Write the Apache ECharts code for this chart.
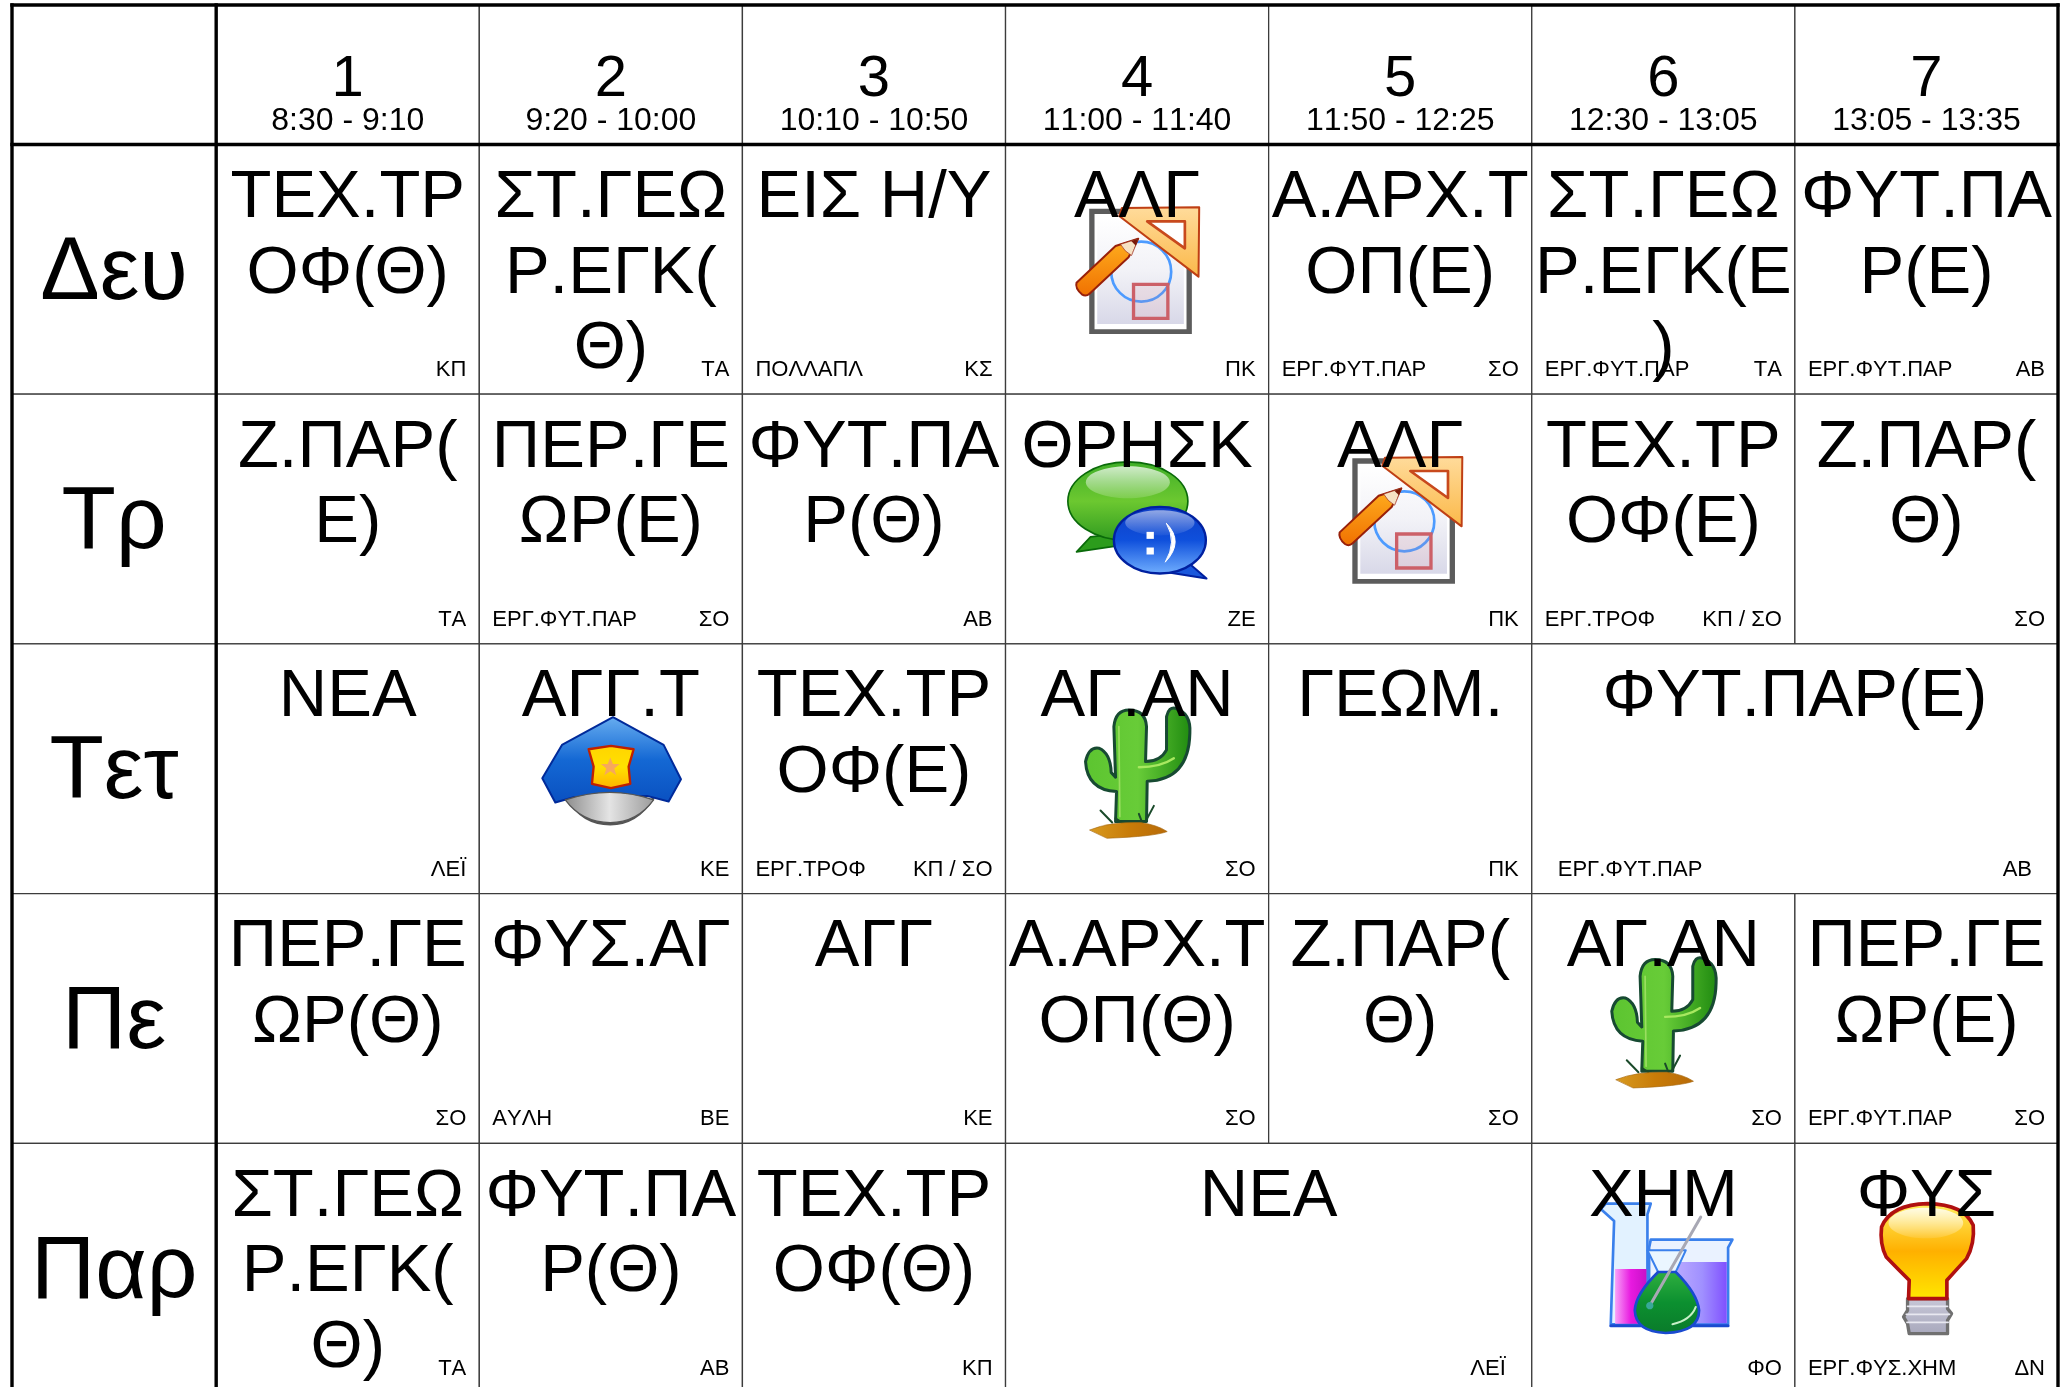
<!DOCTYPE html>
<html>
<head>
<meta charset="utf-8">
<title>Πρόγραμμα</title>
<style>
html, body { margin: 0; padding: 0; background: #fff; }
#main { width: 2061px; height: 1387px; }
</style>
<script src="https://cdn.jsdelivr.net/npm/echarts@6/dist/echarts.min.js"></script>
</head>
<body>
<div id="main"></div>
<script>
var days = ['Δευ', 'Τρ', 'Τετ', 'Πε', 'Παρ'];
var periods = ['1', '2', '3', '4', '5', '6', '7'];
var times = ['8:30 - 9:10', '9:20 - 10:00', '10:10 - 10:50', '11:00 - 11:40', '11:50 - 12:25', '12:30 - 13:05', '13:05 - 13:35'];

// null = covered by the merged cell on its left
var subjects = [];
subjects[0] = ['ΤΕΧ.ΤΡ\nΟΦ(Θ)', 'ΣΤ.ΓΕΩ\nΡ.ΕΓΚ(\nΘ)', 'ΕΙΣ Η/Υ', 'ΑΛΓ', 'Α.ΑΡΧ.Τ\nΟΠ(Ε)', 'ΣΤ.ΓΕΩ\nΡ.ΕΓΚ(Ε\n)', 'ΦΥΤ.ΠΑ\nΡ(Ε)'];
subjects[1] = ['Ζ.ΠΑΡ(\nΕ)', 'ΠΕΡ.ΓΕ\nΩΡ(Ε)', 'ΦΥΤ.ΠΑ\nΡ(Θ)', 'ΘΡΗΣΚ', 'ΑΛΓ', 'ΤΕΧ.ΤΡ\nΟΦ(Ε)', 'Ζ.ΠΑΡ(\nΘ)'];
subjects[2] = ['ΝΕΑ', 'ΑΓΓ.Τ', 'ΤΕΧ.ΤΡ\nΟΦ(Ε)', 'ΑΓ.ΑΝ', 'ΓΕΩΜ.', 'ΦΥΤ.ΠΑΡ(Ε)', null];
subjects[3] = ['ΠΕΡ.ΓΕ\nΩΡ(Θ)', 'ΦΥΣ.ΑΓ', 'ΑΓΓ', 'Α.ΑΡΧ.Τ\nΟΠ(Θ)', 'Ζ.ΠΑΡ(\nΘ)', 'ΑΓ.ΑΝ', 'ΠΕΡ.ΓΕ\nΩΡ(Ε)'];
subjects[4] = ['ΣΤ.ΓΕΩ\nΡ.ΕΓΚ(\nΘ)', 'ΦΥΤ.ΠΑ\nΡ(Θ)', 'ΤΕΧ.ΤΡ\nΟΦ(Θ)', 'ΝΕΑ', null, 'ΧΗΜ', 'ΦΥΣ'];

var rooms = [];
rooms[0] = ['', '', 'ΠΟΛΛΑΠΛ', '', 'ΕΡΓ.ΦΥΤ.ΠΑΡ', 'ΕΡΓ.ΦΥΤ.ΠΑΡ', 'ΕΡΓ.ΦΥΤ.ΠΑΡ'];
rooms[1] = ['', 'ΕΡΓ.ΦΥΤ.ΠΑΡ', '', '', '', 'ΕΡΓ.ΤΡΟΦ', ''];
rooms[2] = ['', '', 'ΕΡΓ.ΤΡΟΦ', '', '', 'ΕΡΓ.ΦΥΤ.ΠΑΡ', ''];
rooms[3] = ['', 'ΑΥΛΗ', '', '', '', '', 'ΕΡΓ.ΦΥΤ.ΠΑΡ'];
rooms[4] = ['', '', '', '', '', '', 'ΕΡΓ.ΦΥΣ.ΧΗΜ'];

var teachers = [];
teachers[0] = ['ΚΠ', 'ΤΑ', 'ΚΣ', 'ΠΚ', 'ΣΟ', 'ΤΑ', 'ΑΒ'];
teachers[1] = ['ΤΑ', 'ΣΟ', 'ΑΒ', 'ΖΕ', 'ΠΚ', 'ΚΠ / ΣΟ', 'ΣΟ'];
teachers[2] = ['ΛΕΪ', 'ΚΕ', 'ΚΠ / ΣΟ', 'ΣΟ', 'ΠΚ', 'ΑΒ', ''];
teachers[3] = ['ΣΟ', 'ΒΕ', 'ΚΕ', 'ΣΟ', 'ΣΟ', 'ΣΟ', 'ΣΟ'];
teachers[4] = ['ΤΑ', 'ΑΒ', 'ΚΠ', 'ΛΕΪ', '', 'ΦΟ', 'ΔΝ'];

var icons = [];
icons[0] = ['', '', '', 'geometry', '', '', ''];
icons[1] = ['', '', '', 'chat', 'geometry', '', ''];
icons[2] = ['', 'cap', '', 'cactus', '', '', ''];
icons[3] = ['', '', '', '', '', 'cactus', ''];
icons[4] = ['', '', '', '', '', 'chem', 'bulb'];

var fontName = '"Liberation Sans", Arial, sans-serif';
var headerLeft = -0.776;
var headerTop = -0.5586;

var cellData = [];
for (var r = 0; r < subjects.length; r++) {
    for (var c = 0; c < subjects[r].length; c++) {
        if (subjects[r][c] === null) continue;
        var span = 1;
        while (c + span < subjects[r].length && subjects[r][c + span] === null) span++;
        cellData.push([c, r, span]);
    }
}
var headData = [];
for (var i = 0; i < periods.length; i++) headData.push([i, headerTop, 1]);
var dayData = [];
for (var i = 0; i < days.length; i++) dayData.push([headerLeft, i, 1]);

// thick rules of the table: x1, y1, x2, y2
var ruleData = [
    [headerLeft, headerTop, 7, headerTop],
    [headerLeft, 0, 7, 0],
    [headerLeft, headerTop, headerLeft, 5],
    [0, headerTop, 0, 5],
    [7, headerTop, 7, 5]
];

function lin(c0, c1, c2) {
    var stops = [{ offset: 0, color: c0 }];
    if (c2) {
        stops.push({ offset: 0.5, color: c1 });
        stops.push({ offset: 1, color: c2 });
    } else {
        stops.push({ offset: 1, color: c1 });
    }
    return new echarts.graphic.LinearGradient(0, 0, 0, 1, stops);
}
function side(c0, c1, c2) {
    return new echarts.graphic.LinearGradient(0, 0, 1, 0, [
        { offset: 0, color: c0 }, { offset: 0.5, color: c1 }, { offset: 1, color: c2 }
    ]);
}
function pathEl(d, fill, stroke, width) {
    return {
        type: 'path',
        shape: { pathData: d },
        style: { fill: fill || 'none', stroke: stroke || 'none', lineWidth: width || 0, lineJoin: 'round', lineCap: 'round' }
    };
}
function ellipseEl(cx, cy, rx, ry, fill, stroke, width) {
    return {
        type: 'ellipse',
        shape: { cx: cx, cy: cy, rx: rx, ry: ry },
        style: { fill: fill || 'none', stroke: stroke || 'none', lineWidth: width || 0 }
    };
}
function rectEl(x, y, w, h, fill, stroke, width) {
    return {
        type: 'rect',
        shape: { x: x, y: y, width: w, height: h },
        style: { fill: fill || 'none', stroke: stroke || 'none', lineWidth: width || 0 }
    };
}

// icon parts are traced in 3x pixels, offset is from the cell's top left corner
function iconGeometry() {
    return {
        dx: 35, dy: 5.5,
        parts: [
            rectEl(146, 176, 308, 376, '#5c5c5c'),
            rectEl(162, 192, 276, 346, '#ffffff'),
            rectEl(170, 200, 260, 322, lin('#ffffff', '#f2f2f7', '#d8d8e8')),
            ellipseEl(302, 365, 90, 90, 'none', '#4d9bff', 8),
            rectEl(279, 403, 103, 102, 'rgba(225,120,130,0.12)', '#cc6068', 10),
            pathEl('M236,198 L244,174 L476,172 L474,380 Z', lin('#ffdc9c', '#fbb848'), '#bf3f14', 6),
            pathEl('M320,214 L433,214 L433,295 Z', '#ffffff', '#c8491d', 8),
            pathEl('M293,266 L225,288 L108,398 Q103,415 124,433 Q136,441 147,431 L264,322 Z', lin('#ffb020', '#f07000'), '#98200a', 6),
            pathEl('M293,266 L240,283 Q252,305 272,316 Z', '#f6e2c4', '#98200a', 2),
            pathEl('M293,266 L272,273 L286,287 Z', '#7a1a0a')
        ]
    };
}
function iconChat() {
    return {
        dx: 35, dy: 26,
        parts: [
            pathEl('M150,350 L108,395 L225,378 L240,340 Z', '#2c9c1c', '#0a6a0a', 5),
            ellipseEl(262, 243, 180, 118, lin('#3fae28', '#6cc830', '#2f9a20'), '#0a6a0a', 5),
            ellipseEl(262, 186, 126, 48, lin('rgba(255,255,255,0.75)', 'rgba(255,255,255,0.15)')),
            pathEl('M440,425 L498,475 L385,457 L400,430 Z', '#1a58dc', '#0020a0', 6),
            ellipseEl(358, 360, 138, 100, lin('#0c3cc4', '#0f50dc', '#72b0ff'), '#0020a0', 7),
            ellipseEl(358, 308, 104, 38, lin('rgba(255,255,255,0.55)', 'rgba(255,255,255,0.05)')),
            rectEl(318, 335, 22, 21, '#ffffff'),
            rectEl(318, 382, 22, 21, '#ffffff'),
            pathEl('M378,310 Q432,365 374,426 Q410,365 378,310 Z', '#ffffff', '#ffffff', 3)
        ]
    };
}
function iconCap() {
    return {
        dx: 41, dy: 46,
        parts: [
            pathEl('M140,325 Q270,410 400,325 Q350,404 270,404 Q185,404 140,325 Z', '#555555', '#555555', 5),
            pathEl('M278,82 L430,165 L482,268 L445,335 L380,318 L160,322 L105,338 L66,265 L125,165 Z', lin('#68aef0', '#1468d4', '#0a50c0'), '#002a9a', 6),
            pathEl('M135,330 Q270,285 400,330 Q350,398 270,398 Q185,398 135,330 Z', side('#8c8c8c', '#e4e4e4', '#9a9a9a'), '#555555', 4),
            pathEl('M205,178 L272,168 L340,178 L325,230 L330,282 L272,295 L215,282 L220,230 Z', lin('#ffd400', '#ffe000', '#ffb000'), '#c02000', 7),
            pathEl('M270,203 L278,222 L298,222 L282,236 L288,256 L270,244 L252,256 L258,236 L242,222 L262,222 Z', '#f7a85c')
        ]
    };
}
function iconCactus() {
    return {
        dx: 55, dy: 46,
        parts: [
            pathEl('M165,395 L168,305 Q80,300 75,215 Q85,170 115,175 Q150,190 152,248 L165,262 L160,110 Q165,60 205,60 Q255,60 258,110 L255,215 Q300,215 318,180 L318,80 Q325,50 345,55 Q392,70 388,130 Q385,270 260,274 L258,395 Z',
                side('#5cc430', '#68cc38', '#1f8a10'), '#174a32', 9),
            pathEl('M235,232 Q300,232 340,205', 'none', '#a8e860', 7),
            pathEl('M175,110 L178,380', 'none', '#9ade60', 5),
            pathEl('M120,362 L155,398 M235,372 L245,398 M280,348 L255,395 M165,385 L185,398', 'none', '#1a4a2a', 6),
            pathEl('M88,420 Q150,395 240,398 Q290,405 320,425 Q280,440 140,445 Z', side('#d89a20', '#c87c08', '#b86a08'), '#a86a10', 2)
        ]
    };
}
function iconChem() {
    return {
        dx: 49, dy: 37,
        parts: [
            pathEl('M60,86 L75,70 L210,70 L200,102 L200,432 L90,432 L100,122 Z', '#e2f2ff', '#3a80ec', 8),
            rectEl(103, 266, 94, 164, side('#f8a0f8', '#e81ae0', '#c810c8')),
            pathEl('M210,178 L455,178 L442,202 L442,432 L205,432 L205,202 Z', '#eaf2ff', '#3a80ec', 8),
            rectEl(290, 245, 148, 184, side('#b8a8ff', '#a090ff', '#8050ff')),
            pathEl('M90,436 L442,436', 'none', '#1a4ad0', 9),
            pathEl('M200,210 L315,210 L285,275 L232,275 Z', '#eaf6ff', '#3a80ec', 6),
            pathEl('M232,275 Q165,340 162,390 Q165,455 255,458 Q355,455 355,390 Q350,340 285,275 Z', lin('#30b040', '#0c9030', '#0a7a2a'), '#1a4ad0', 8),
            pathEl('M360,110 L207,376', 'none', '#a8a8b4', 9),
            ellipseEl(207, 376, 11, 11, '#38a898'),
            pathEl('M275,432 Q330,420 345,380', 'none', '#c8f0c8', 6)
        ]
    };
}
function iconBulb() {
    return {
        dx: 46, dy: 37,
        parts: [
            pathEl('M200,355 L320,355 L320,385 L332,400 L320,420 L320,460 L205,460 L200,430 L188,410 L200,390 Z', lin('#c8c8d8', '#a8a8bc'), '#707070', 10),
            pathEl('M200,378 L320,378 M196,402 L326,402 M198,426 L322,426', 'none', '#e8e8f0', 5),
            pathEl('M205,300 Q170,265 136,230 Q116,190 122,140 Q150,72 260,70 Q370,72 397,135 Q402,190 377,235 Q345,270 318,300 L318,355 L203,355 Z',
                lin('#fff060', '#ffb000', '#ffe800'), '#b01010', 11),
            ellipseEl(255, 128, 112, 46, lin('rgba(255,255,255,0.85)', 'rgba(255,255,255,0.1)'))
        ]
    };
}
var iconMakers = { geometry: iconGeometry, chat: iconChat, cap: iconCap, cactus: iconCactus, chem: iconChem, bulb: iconBulb };

function textEl(text, x, y, size, align) {
    return {
        type: 'text',
        style: {
            text: text, x: x, y: y, fill: '#000000',
            font: size + 'px ' + fontName,
            align: align, verticalAlign: 'middle'
        }
    };
}

function renderBox(params, api) {
    var p0 = api.coord([api.value(0), api.value(1)]);
    var isDay = api.value(0) < 0;
    var isHead = api.value(1) < 0;
    var x1 = isDay ? 0 : api.value(0) + api.value(2);
    var y1 = isHead ? 0 : api.value(1) + 1;
    var p1 = api.coord([x1, y1]);
    return {
        type: 'rect',
        shape: { x: p0[0], y: p0[1], width: p1[0] - p0[0], height: p1[1] - p0[1] },
        style: { fill: '#ffffff', stroke: '#3c3c3c', lineWidth: 1.3 }
    };
}

function renderIcon(params, api) {
    var c = api.value(0), r = api.value(1);
    var name = icons[r][c];
    if (!name) return null;
    var icon = iconMakers[name]();
    var p = api.coord([c, r]);
    return {
        type: 'group',
        x: p[0] + icon.dx, y: p[1] + icon.dy,
        scaleX: 1 / 3, scaleY: 1 / 3,
        children: icon.parts
    };
}

function renderCellText(params, api) {
    var c = api.value(0), r = api.value(1), sp = api.value(2);
    var p0 = api.coord([c, r]);
    var p1 = api.coord([c + sp, r + 1]);
    var cx = (p0[0] + p1[0]) / 2;
    var kids = [];
    var lines = subjects[r][c].split('\n');
    for (var i = 0; i < lines.length; i++) {
        kids.push(textEl(lines[i], cx, p0[1] + 54 + i * 75.7, 67, 'center'));
    }
    if (rooms[r][c]) kids.push(textEl(rooms[r][c], p0[0] + 13 * sp, p1[1] - 24, 22, 'left'));
    if (teachers[r][c]) kids.push(textEl(teachers[r][c], p1[0] - 13 * sp, p1[1] - 24, 22, 'right'));
    return { type: 'group', children: kids };
}

function renderHead(params, api) {
    var c = api.value(0);
    var p0 = api.coord([c, headerTop]);
    var p1 = api.coord([c + 1, 0]);
    var cx = (p0[0] + p1[0]) / 2;
    return {
        type: 'group',
        children: [
            textEl(periods[c], cx, p0[1] + 75, 58, 'center'),
            textEl(times[c], cx, p0[1] + 116.5, 32, 'center')
        ]
    };
}

function renderDay(params, api) {
    var r = api.value(1);
    var p0 = api.coord([headerLeft, r]);
    var p1 = api.coord([0, r + 1]);
    return textEl(days[r], (p0[0] + p1[0]) / 2, (p0[1] + p1[1]) / 2 + 5, 89, 'center');
}

function renderRule(params, api) {
    var a = api.coord([api.value(0), api.value(1)]);
    var b = api.coord([api.value(2), api.value(3)]);
    return {
        type: 'line',
        shape: { x1: a[0], y1: a[1], x2: b[0], y2: b[1] },
        style: { stroke: '#000000', lineWidth: 3.4, lineCap: 'square' }
    };
}

var chart = echarts.init(document.getElementById('main'), null, { renderer: 'canvas' });
// the table runs past the bottom of the page, kerning is off in the original
chart.getZr().painter.getLayer(0).ctx.fontKerning = 'none';
chart.setOption({
    animation: false,
    backgroundColor: '#ffffff',
    grid: { left: 12, top: 5, width: 2046, height: 1388, outerBoundsMode: 'none' },
    xAxis: { type: 'value', min: headerLeft, max: 7, show: false },
    yAxis: { type: 'value', min: headerTop, max: 5, inverse: true, show: false },
    tooltip: { show: false },
    series: [
        { type: 'custom', name: 'cells', coordinateSystem: 'cartesian2d', data: cellData, renderItem: renderBox, silent: true },
        { type: 'custom', name: 'head boxes', coordinateSystem: 'cartesian2d', data: headData, renderItem: renderBox, silent: true },
        { type: 'custom', name: 'day boxes', coordinateSystem: 'cartesian2d', data: dayData, renderItem: renderBox, silent: true },
        { type: 'custom', name: 'icons', coordinateSystem: 'cartesian2d', data: cellData, renderItem: renderIcon, silent: true },
        { type: 'custom', name: 'cell text', coordinateSystem: 'cartesian2d', data: cellData, renderItem: renderCellText, silent: true },
        { type: 'custom', name: 'periods', coordinateSystem: 'cartesian2d', data: headData, renderItem: renderHead, silent: true },
        { type: 'custom', name: 'days', coordinateSystem: 'cartesian2d', data: dayData, renderItem: renderDay, silent: true },
        { type: 'custom', name: 'rules', coordinateSystem: 'cartesian2d', data: ruleData, renderItem: renderRule, silent: true, encode: { x: [0, 2], y: [1, 3] } }
    ]
});
</script>
</body>
</html>
